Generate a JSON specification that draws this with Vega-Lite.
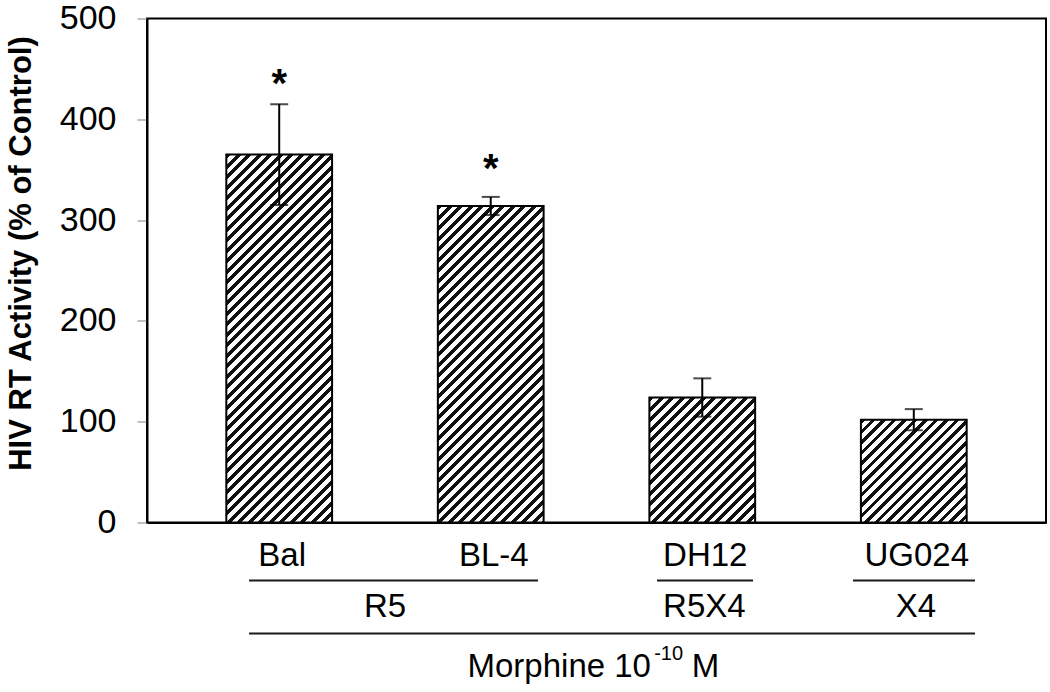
{
  "$schema": "https://vega.github.io/schema/vega-lite/v6.json",
  "width": 899,
  "height": 504,
  "autosize": "none",
  "padding": {"left": 147, "top": 18.5, "right": 4, "bottom": 169.5},
  "background": "white",
  "config": {
    "font": "Liberation Sans",
    "view": {"stroke": "black", "strokeWidth": 2},
    "axis": {"grid": false}
  },
  "params": [
    {
      "name": "hatch",
      "value": [
        {"offset":0,"color":"#111"},{"offset":0.009,"color":"#111"},{"offset":0.009,"color":"#fff"},{"offset":0.02,"color":"#fff"},
        {"offset":0.02,"color":"#111"},{"offset":0.029,"color":"#111"},{"offset":0.029,"color":"#fff"},{"offset":0.04,"color":"#fff"},
        {"offset":0.04,"color":"#111"},{"offset":0.049,"color":"#111"},{"offset":0.049,"color":"#fff"},{"offset":0.06,"color":"#fff"},
        {"offset":0.06,"color":"#111"},{"offset":0.069,"color":"#111"},{"offset":0.069,"color":"#fff"},{"offset":0.08,"color":"#fff"},
        {"offset":0.08,"color":"#111"},{"offset":0.089,"color":"#111"},{"offset":0.089,"color":"#fff"},{"offset":0.1,"color":"#fff"},
        {"offset":0.1,"color":"#111"},{"offset":0.109,"color":"#111"},{"offset":0.109,"color":"#fff"},{"offset":0.12,"color":"#fff"},
        {"offset":0.12,"color":"#111"},{"offset":0.129,"color":"#111"},{"offset":0.129,"color":"#fff"},{"offset":0.14,"color":"#fff"},
        {"offset":0.14,"color":"#111"},{"offset":0.149,"color":"#111"},{"offset":0.149,"color":"#fff"},{"offset":0.16,"color":"#fff"},
        {"offset":0.16,"color":"#111"},{"offset":0.169,"color":"#111"},{"offset":0.169,"color":"#fff"},{"offset":0.18,"color":"#fff"},
        {"offset":0.18,"color":"#111"},{"offset":0.189,"color":"#111"},{"offset":0.189,"color":"#fff"},{"offset":0.2,"color":"#fff"},
        {"offset":0.2,"color":"#111"},{"offset":0.209,"color":"#111"},{"offset":0.209,"color":"#fff"},{"offset":0.22,"color":"#fff"},
        {"offset":0.22,"color":"#111"},{"offset":0.229,"color":"#111"},{"offset":0.229,"color":"#fff"},{"offset":0.24,"color":"#fff"},
        {"offset":0.24,"color":"#111"},{"offset":0.249,"color":"#111"},{"offset":0.249,"color":"#fff"},{"offset":0.26,"color":"#fff"},
        {"offset":0.26,"color":"#111"},{"offset":0.269,"color":"#111"},{"offset":0.269,"color":"#fff"},{"offset":0.28,"color":"#fff"},
        {"offset":0.28,"color":"#111"},{"offset":0.289,"color":"#111"},{"offset":0.289,"color":"#fff"},{"offset":0.3,"color":"#fff"},
        {"offset":0.3,"color":"#111"},{"offset":0.309,"color":"#111"},{"offset":0.309,"color":"#fff"},{"offset":0.32,"color":"#fff"},
        {"offset":0.32,"color":"#111"},{"offset":0.329,"color":"#111"},{"offset":0.329,"color":"#fff"},{"offset":0.34,"color":"#fff"},
        {"offset":0.34,"color":"#111"},{"offset":0.349,"color":"#111"},{"offset":0.349,"color":"#fff"},{"offset":0.36,"color":"#fff"},
        {"offset":0.36,"color":"#111"},{"offset":0.369,"color":"#111"},{"offset":0.369,"color":"#fff"},{"offset":0.38,"color":"#fff"},
        {"offset":0.38,"color":"#111"},{"offset":0.389,"color":"#111"},{"offset":0.389,"color":"#fff"},{"offset":0.4,"color":"#fff"},
        {"offset":0.4,"color":"#111"},{"offset":0.409,"color":"#111"},{"offset":0.409,"color":"#fff"},{"offset":0.42,"color":"#fff"},
        {"offset":0.42,"color":"#111"},{"offset":0.429,"color":"#111"},{"offset":0.429,"color":"#fff"},{"offset":0.44,"color":"#fff"},
        {"offset":0.44,"color":"#111"},{"offset":0.449,"color":"#111"},{"offset":0.449,"color":"#fff"},{"offset":0.46,"color":"#fff"},
        {"offset":0.46,"color":"#111"},{"offset":0.469,"color":"#111"},{"offset":0.469,"color":"#fff"},{"offset":0.48,"color":"#fff"},
        {"offset":0.48,"color":"#111"},{"offset":0.489,"color":"#111"},{"offset":0.489,"color":"#fff"},{"offset":0.5,"color":"#fff"},
        {"offset":0.5,"color":"#111"},{"offset":0.509,"color":"#111"},{"offset":0.509,"color":"#fff"},{"offset":0.52,"color":"#fff"},
        {"offset":0.52,"color":"#111"},{"offset":0.529,"color":"#111"},{"offset":0.529,"color":"#fff"},{"offset":0.54,"color":"#fff"},
        {"offset":0.54,"color":"#111"},{"offset":0.549,"color":"#111"},{"offset":0.549,"color":"#fff"},{"offset":0.56,"color":"#fff"},
        {"offset":0.56,"color":"#111"},{"offset":0.569,"color":"#111"},{"offset":0.569,"color":"#fff"},{"offset":0.58,"color":"#fff"},
        {"offset":0.58,"color":"#111"},{"offset":0.589,"color":"#111"},{"offset":0.589,"color":"#fff"},{"offset":0.6,"color":"#fff"},
        {"offset":0.6,"color":"#111"},{"offset":0.609,"color":"#111"},{"offset":0.609,"color":"#fff"},{"offset":0.62,"color":"#fff"},
        {"offset":0.62,"color":"#111"},{"offset":0.629,"color":"#111"},{"offset":0.629,"color":"#fff"},{"offset":0.64,"color":"#fff"},
        {"offset":0.64,"color":"#111"},{"offset":0.649,"color":"#111"},{"offset":0.649,"color":"#fff"},{"offset":0.66,"color":"#fff"},
        {"offset":0.66,"color":"#111"},{"offset":0.669,"color":"#111"},{"offset":0.669,"color":"#fff"},{"offset":0.68,"color":"#fff"},
        {"offset":0.68,"color":"#111"},{"offset":0.689,"color":"#111"},{"offset":0.689,"color":"#fff"},{"offset":0.7,"color":"#fff"},
        {"offset":0.7,"color":"#111"},{"offset":0.709,"color":"#111"},{"offset":0.709,"color":"#fff"},{"offset":0.72,"color":"#fff"},
        {"offset":0.72,"color":"#111"},{"offset":0.729,"color":"#111"},{"offset":0.729,"color":"#fff"},{"offset":0.74,"color":"#fff"},
        {"offset":0.74,"color":"#111"},{"offset":0.749,"color":"#111"},{"offset":0.749,"color":"#fff"},{"offset":0.76,"color":"#fff"},
        {"offset":0.76,"color":"#111"},{"offset":0.769,"color":"#111"},{"offset":0.769,"color":"#fff"},{"offset":0.78,"color":"#fff"},
        {"offset":0.78,"color":"#111"},{"offset":0.789,"color":"#111"},{"offset":0.789,"color":"#fff"},{"offset":0.8,"color":"#fff"},
        {"offset":0.8,"color":"#111"},{"offset":0.809,"color":"#111"},{"offset":0.809,"color":"#fff"},{"offset":0.82,"color":"#fff"},
        {"offset":0.82,"color":"#111"},{"offset":0.829,"color":"#111"},{"offset":0.829,"color":"#fff"},{"offset":0.84,"color":"#fff"},
        {"offset":0.84,"color":"#111"},{"offset":0.849,"color":"#111"},{"offset":0.849,"color":"#fff"},{"offset":0.86,"color":"#fff"},
        {"offset":0.86,"color":"#111"},{"offset":0.869,"color":"#111"},{"offset":0.869,"color":"#fff"},{"offset":0.88,"color":"#fff"},
        {"offset":0.88,"color":"#111"},{"offset":0.889,"color":"#111"},{"offset":0.889,"color":"#fff"},{"offset":0.9,"color":"#fff"},
        {"offset":0.9,"color":"#111"},{"offset":0.909,"color":"#111"},{"offset":0.909,"color":"#fff"},{"offset":0.92,"color":"#fff"},
        {"offset":0.92,"color":"#111"},{"offset":0.929,"color":"#111"},{"offset":0.929,"color":"#fff"},{"offset":0.94,"color":"#fff"},
        {"offset":0.94,"color":"#111"},{"offset":0.949,"color":"#111"},{"offset":0.949,"color":"#fff"},{"offset":0.96,"color":"#fff"},
        {"offset":0.96,"color":"#111"},{"offset":0.969,"color":"#111"},{"offset":0.969,"color":"#fff"},{"offset":0.98,"color":"#fff"},
        {"offset":0.98,"color":"#111"},{"offset":0.989,"color":"#111"},{"offset":0.989,"color":"#fff"},{"offset":1,"color":"#fff"}
      ]
    }
  ],
  "datasets": {
    "bars": [
      {"strain": "Bal", "value": 365, "lo": 315, "hi": 415, "sig": "*", "star": 444},
      {"strain": "BL-4", "value": 314, "lo": 305, "hi": 323, "sig": "*", "star": 360},
      {"strain": "DH12", "value": 124, "lo": 105, "hi": 143},
      {"strain": "UG024", "value": 102, "lo": 91.5, "hi": 112.5}
    ]
  },
  "data": {"name": "bars"},
  "layer": [
    {
      "mark": {
        "type": "bar",
        "stroke": "black",
        "strokeWidth": 2,
        "fill": {"expr": "{gradient: 'linear', x1: 0, y1: 0, x2: bandwidth('x') * 525 / (pow(bandwidth('x'), 2) + pow(scale('y', 0) - scale('y', datum.value), 2)), y2: (scale('y', 0) - scale('y', datum.value)) * 525 / (pow(bandwidth('x'), 2) + pow(scale('y', 0) - scale('y', datum.value), 2)), stops: hatch}"}
      },
      "encoding": {
        "x": {
          "field": "strain",
          "type": "nominal",
          "scale": {"domain": ["Bal", "BL-4", "DH12", "UG024"], "paddingInner": 0.5, "paddingOuter": 0.375},
          "axis": {
            "title": null,
            "ticks": false,
            "tickSize": 0,
            "labelAngle": 0,
            "labelFontSize": 33,
            "labelColor": "black",
            "labelPadding": 17,
            "labelOffset": 3,
            "domainColor": "black",
            "domainWidth": 2
          }
        },
        "y": {
          "field": "value",
          "type": "quantitative",
          "scale": {"domain": [0, 500], "nice": false},
          "axis": {
            "title": "HIV RT Activity (% of Control)",
            "values": [0, 100, 200, 300, 400, 500],
            "tickSize": 10,
            "tickColor": "#808080",
            "tickWidth": 1,
            "labelFontSize": 34,
            "labelColor": "black",
            "labelPadding": 21,
            "domainColor": "black",
            "domainWidth": 2,
            "titleFontSize": 31,
            "titleFontWeight": "bold",
            "titleColor": "black",
            "titleX": -110,
            "titleY": 234.5
          }
        }
      }
    },
    {
      "mark": {"type": "rule", "color": "black", "strokeWidth": 2},
      "encoding": {
        "x": {"field": "strain", "type": "nominal", "sort": null},
        "y": {"field": "lo", "type": "quantitative", "scale": {"domain": [0, 500]}},
        "y2": {"field": "hi"}
      }
    },
    {
      "mark": {"type": "tick", "color": "black", "size": 18, "thickness": 2},
      "encoding": {
        "x": {"field": "strain", "type": "nominal", "sort": null},
        "y": {"field": "hi", "type": "quantitative", "scale": {"domain": [0, 500]}}
      }
    },
    {
      "mark": {"type": "tick", "color": "black", "size": 18, "thickness": 2},
      "encoding": {
        "x": {"field": "strain", "type": "nominal", "sort": null},
        "y": {"field": "lo", "type": "quantitative", "scale": {"domain": [0, 500]}}
      }
    },
    {
      "transform": [{"filter": "isValid(datum.star)"}],
      "mark": {"type": "text", "fontSize": 40, "fontWeight": "bold", "baseline": "alphabetic", "align": "center", "dy": 22, "color": "black"},
      "encoding": {
        "x": {"field": "strain", "type": "nominal", "sort": null},
        "y": {"field": "star", "type": "quantitative", "scale": {"domain": [0, 500]}},
        "text": {"field": "sig"}
      }
    },
    {
      "data": {"values": [{"from": "Bal", "to": "BL-4", "y": -57.5}]},
      "mark": {"type": "rule", "color": "#1a1a1a", "strokeWidth": 2},
      "encoding": {
        "x": {"field": "from", "type": "nominal", "sort": null, "bandPosition": 0.215},
        "x2": {"field": "to", "bandPosition": 0.947},
        "y": {"field": "y", "type": "quantitative", "scale": {"domain": [0, 500]}}
      }
    },
    {
      "data": {"values": [{"from": "DH12", "to": "DH12", "y": -57.5}]},
      "mark": {"type": "rule", "color": "#1a1a1a", "strokeWidth": 2},
      "encoding": {
        "x": {"field": "from", "type": "nominal", "sort": null, "bandPosition": 0.072},
        "x2": {"field": "to", "bandPosition": 0.98},
        "y": {"field": "y", "type": "quantitative", "scale": {"domain": [0, 500]}}
      }
    },
    {
      "data": {"values": [{"from": "UG024", "to": "UG024", "y": -57.5}]},
      "mark": {"type": "rule", "color": "#1a1a1a", "strokeWidth": 2},
      "encoding": {
        "x": {"field": "from", "type": "nominal", "sort": null, "bandPosition": -0.075},
        "x2": {"field": "to", "bandPosition": 1.079},
        "y": {"field": "y", "type": "quantitative", "scale": {"domain": [0, 500]}}
      }
    },
    {
      "data": {"values": [{"from": "Bal", "to": "UG024", "y": -110}]},
      "mark": {"type": "rule", "color": "#1a1a1a", "strokeWidth": 2},
      "encoding": {
        "x": {"field": "from", "type": "nominal", "sort": null, "bandPosition": 0.215},
        "x2": {"field": "to", "bandPosition": 1.079},
        "y": {"field": "y", "type": "quantitative", "scale": {"domain": [0, 500]}}
      }
    },
    {
      "data": {"values": [{"label": "R5", "at": "Bal", "y": -93.75}]},
      "mark": {"type": "text", "fontSize": 33, "baseline": "alphabetic", "align": "center", "color": "black"},
      "encoding": {
        "x": {"field": "at", "type": "nominal", "sort": null, "bandPosition": 1.5},
        "y": {"field": "y", "type": "quantitative", "scale": {"domain": [0, 500]}},
        "text": {"field": "label"}
      }
    },
    {
      "data": {"values": [
        {"label": "R5X4", "at": "DH12", "y": -93.75},
        {"label": "X4", "at": "UG024", "y": -93.75}
      ]},
      "mark": {"type": "text", "fontSize": 33, "baseline": "alphabetic", "align": "center", "color": "black"},
      "encoding": {
        "x": {"field": "at", "type": "nominal", "sort": null, "bandPosition": 0.52},
        "y": {"field": "y", "type": "quantitative", "scale": {"domain": [0, 500]}},
        "text": {"field": "label"}
      }
    },
    {
      "data": {"values": [{"label": "Morphine 10", "at": "BL-4", "y": -153.3}]},
      "mark": {"type": "text", "fontSize": 33, "baseline": "alphabetic", "align": "right", "color": "black"},
      "encoding": {
        "x": {"field": "at", "type": "nominal", "sort": null, "bandPosition": 2.015},
        "y": {"field": "y", "type": "quantitative", "scale": {"domain": [0, 500]}},
        "text": {"field": "label"}
      }
    },
    {
      "data": {"values": [{"label": "-10", "at": "BL-4", "y": -136.4}]},
      "mark": {"type": "text", "fontSize": 20, "baseline": "alphabetic", "align": "left", "color": "black"},
      "encoding": {
        "x": {"field": "at", "type": "nominal", "sort": null, "bandPosition": 2.045},
        "y": {"field": "y", "type": "quantitative", "scale": {"domain": [0, 500]}},
        "text": {"field": "label"}
      }
    },
    {
      "data": {"values": [{"label": "M", "at": "BL-4", "y": -153.3}]},
      "mark": {"type": "text", "fontSize": 33, "baseline": "alphabetic", "align": "left", "color": "black"},
      "encoding": {
        "x": {"field": "at", "type": "nominal", "sort": null, "bandPosition": 2.4},
        "y": {"field": "y", "type": "quantitative", "scale": {"domain": [0, 500]}},
        "text": {"field": "label"}
      }
    }
  ]
}
